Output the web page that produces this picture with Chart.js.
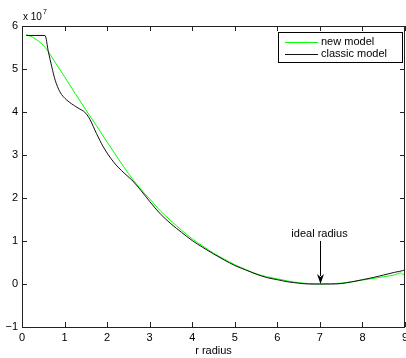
<!DOCTYPE html>
<html>
<head>
<meta charset="utf-8">
<script src="https://cdn.jsdelivr.net/npm/chart.js@4/dist/chart.umd.min.js"></script>
<style>
  html, body { margin: 0; padding: 0; background: #fff; }
  #wrap { width: 406px; height: 358px; }
</style>
</head>
<body>
<div id="wrap"><canvas id="radiusChart" width="406" height="358"></canvas></div>
<script>
// values are in units of 10^7
const yExponent = 7;

const newModelX = [0.1, 0.25, 0.4, 0.5, 0.62, 0.75, 1.0, 1.25, 1.5, 1.75, 2.0, 2.25, 2.5, 2.75, 3.0,
  3.25, 3.5, 3.75, 4.0, 4.25, 4.5, 4.75, 5.0, 5.25, 5.5, 5.75, 6.0, 6.25, 6.5, 6.75, 7.0,
  7.25, 7.5, 7.75, 8.0, 8.25, 8.5, 8.75, 8.9, 8.95, 9.0];
const newModelY = [5.80, 5.74, 5.64, 5.55, 5.40, 5.20, 4.82, 4.43, 4.05, 3.68, 3.30, 2.93, 2.57, 2.25, 1.98,
  1.70, 1.47, 1.25, 1.05, 0.88, 0.72, 0.58, 0.45, 0.34, 0.24, 0.17, 0.12, 0.07, 0.03, 0.01, 0.0,
  0.005, 0.02, 0.05, 0.09, 0.13, 0.17, 0.21, 0.26, 0.22, 0.24];

const classicX = [0.1, 0.54, 0.62, 0.70, 0.78, 0.89, 1.05, 1.29, 1.5, 1.6, 1.75, 1.91, 2.15, 2.4, 2.58, 2.8, 3.0,
  3.25, 3.5, 3.75, 4.0, 4.25, 4.5, 4.75, 5.0, 5.25, 5.5, 5.75, 6.0, 6.25, 6.5, 6.75, 7.0,
  7.25, 7.5, 7.75, 8.0, 8.25, 8.5, 8.75, 9.0, 9.05];
const classicY = [5.78, 5.78, 5.40, 5.05, 4.74, 4.47, 4.28, 4.11, 3.97, 3.82, 3.50, 3.19, 2.84, 2.58, 2.42, 2.17, 1.92,
  1.63, 1.40, 1.20, 1.01, 0.85, 0.70, 0.56, 0.43, 0.33, 0.23, 0.15, 0.10, 0.05, 0.02, 0.0, 0.0,
  0.0, 0.01, 0.05, 0.10, 0.15, 0.21, 0.27, 0.33, 0.36];

const seriesNames = ['new model', 'classic model'];
const seriesColors = ['#00ff00', '#111111'];

const xTicks = [0, 1, 2, 3, 4, 5, 6, 7, 8, 9];
const yTicks = [-1, 0, 1, 2, 3, 4, 5, 6];

const annotX = 7;
const annotY = 0;
const annotText = 'ideal radius';

const fontFamily = '"Liberation Sans", Arial, Helvetica, sans-serif';
const axisColor = '#222';

function toPoints(xs, ys) {
  return xs.map((x, i) => ({ x: x, y: ys[i] }));
}

// box, inward ticks, legend, exponent label, arrow
const matlabLook = {
  id: 'matlabLook',
  afterDraw(chart) {
    const ctx = chart.ctx;
    const area = chart.chartArea;
    const xs = chart.scales.x;
    const ys = chart.scales.y;
    ctx.save();

    ctx.strokeStyle = axisColor;
    ctx.lineWidth = 1;
    ctx.strokeRect(area.left + 0.5, area.top + 0.5, area.right - area.left - 1, area.bottom - area.top);

    ctx.beginPath();
    xTicks.forEach(v => {
      const px = Math.round(xs.getPixelForValue(v)) + 0.5;
      ctx.moveTo(px, area.bottom);
      ctx.lineTo(px, area.bottom - 5);
      ctx.moveTo(px, area.top);
      ctx.lineTo(px, area.top + 5);
    });
    yTicks.forEach(v => {
      const py = Math.round(ys.getPixelForValue(v)) + 0.5;
      ctx.moveTo(area.left, py);
      ctx.lineTo(area.left + 5, py);
      ctx.moveTo(area.right, py);
      ctx.lineTo(area.right - 5, py);
    });
    ctx.stroke();

    // exponent label
    ctx.fillStyle = '#000';
    ctx.textBaseline = 'alphabetic';
    ctx.textAlign = 'left';
    ctx.font = '10px ' + fontFamily;
    ctx.fillText('x 10', area.left + 1, area.top - 6);
    const w = ctx.measureText('x 10').width;
    ctx.font = '7px ' + fontFamily;
    ctx.fillText(String(yExponent), area.left + 2 + w, area.top - 12);

    // annotation arrow
    const ax = Math.round(xs.getPixelForValue(annotX)) + 0.5;
    const ay = ys.getPixelForValue(annotY);
    ctx.font = '11px ' + fontFamily;
    ctx.textAlign = 'center';
    ctx.textBaseline = 'middle';
    ctx.fillText(annotText, ax - 1, ay - 50);
    ctx.strokeStyle = '#000';
    ctx.beginPath();
    ctx.moveTo(ax, ay - 43);
    ctx.lineTo(ax, ay - 8);
    ctx.stroke();
    ctx.beginPath();
    ctx.moveTo(ax, ay);
    ctx.lineTo(ax - 3.5, ay - 10);
    ctx.lineTo(ax, ay - 7);
    ctx.lineTo(ax + 3.5, ay - 10);
    ctx.closePath();
    ctx.fill();

    // legend box
    const lx = 278, ly = 32, lw = 125, lh = 31;
    ctx.fillStyle = '#fff';
    ctx.fillRect(lx, ly, lw, lh);
    ctx.strokeStyle = '#000';
    ctx.strokeRect(lx + 0.5, ly + 0.5, lw - 1, lh - 1);
    ctx.textAlign = 'left';
    ctx.textBaseline = 'middle';
    ctx.font = '11px ' + fontFamily;
    seriesNames.forEach((name, i) => {
      const yy = ly + 10 + i * 11.5;
      ctx.strokeStyle = seriesColors[i];
      ctx.beginPath();
      ctx.moveTo(lx + 7, Math.round(yy) + 0.5);
      ctx.lineTo(lx + 40, Math.round(yy) + 0.5);
      ctx.stroke();
      ctx.fillStyle = '#000';
      ctx.fillText(name, lx + 43, yy);
    });

    ctx.restore();
  }
};

new Chart(document.getElementById('radiusChart'), {
  type: 'line',
  data: {
    datasets: [
      {
        label: seriesNames[0],
        data: toPoints(newModelX, newModelY),
        borderColor: seriesColors[0],
        borderWidth: 1,
        pointRadius: 0,
        cubicInterpolationMode: 'monotone',
        fill: false,
        order: 1
      },
      {
        label: seriesNames[1],
        data: toPoints(classicX, classicY),
        borderColor: seriesColors[1],
        borderWidth: 1,
        pointRadius: 0,
        cubicInterpolationMode: 'monotone',
        fill: false,
        order: 0
      }
    ]
  },
  options: {
    responsive: false,
    animation: false,
    layout: { padding: { top: 26, right: 1, left: 0, bottom: 0 } },
    plugins: {
      legend: { display: false },
      tooltip: { enabled: false }
    },
    scales: {
      x: {
        type: 'linear',
        min: 0,
        max: 9,
        afterBuildTicks: s => { s.ticks = xTicks.map(v => ({ value: v })); },
        afterFit: s => { s.height = 31; s.paddingRight = 0; s.paddingLeft = 0; },
        grid: { display: false, drawTicks: false },
        border: { display: false },
        ticks: { color: '#000', padding: 4, maxRotation: 0, font: { family: fontFamily, size: 11 } },
        title: { display: true, text: 'r radius', color: '#000', padding: { top: 0, bottom: 0 }, font: { family: fontFamily, size: 11 } }
      },
      y: {
        type: 'linear',
        min: -1,
        max: 6,
        afterBuildTicks: s => { s.ticks = yTicks.map(v => ({ value: v })); },
        afterFit: s => { s.width = 22; s.paddingTop = 0; s.paddingBottom = 0; },
        grid: { display: false, drawTicks: false },
        border: { display: false },
        ticks: {
          color: '#000',
          padding: 4,
          font: { family: fontFamily, size: 11 },
          callback: v => (v < 0 ? '\u2212' + Math.abs(v) : String(v))
        }
      }
    }
  },
  plugins: [matlabLook]
});
</script>
</body>
</html>
